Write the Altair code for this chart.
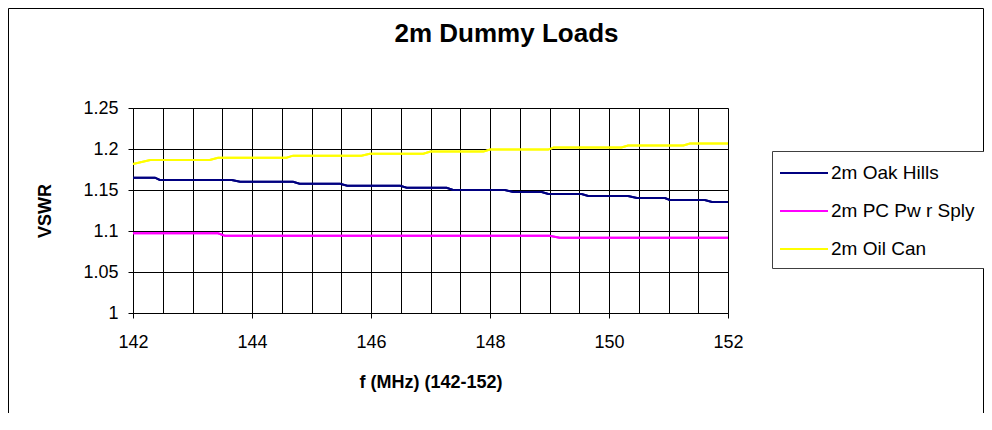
import altair as alt
import pandas as pd

FONT = "Liberation Sans"

series_names = ["2m Oak Hills", "2m PC Pw r Sply", "2m Oil Can"]
series_colors = ["#000080", "#FF00FF", "#FFFF00"]

oak_freq = [142.0, 142.37, 142.45, 143.66, 143.8, 144.69, 144.8, 145.48, 145.6, 146.49, 146.6,
            147.27, 147.38, 148.25, 148.39, 148.87, 148.98, 149.54, 149.65, 150.32, 150.47,
            150.94, 151.02, 151.61, 151.73, 152.0]
oak_vswr = [1.165, 1.165, 1.1622, 1.1622, 1.1601, 1.1601, 1.1577, 1.1577, 1.1552, 1.1552, 1.1528,
            1.1528, 1.150, 1.150, 1.1476, 1.1476, 1.1451, 1.1451, 1.1427, 1.1427, 1.1402,
            1.1402, 1.1378, 1.1378, 1.1354, 1.1354]

pc_freq = [142.0, 143.43, 143.54, 149.0, 149.17, 152.0]
pc_vswr = [1.0972, 1.0972, 1.0943, 1.0943, 1.0919, 1.0919]

oil_freq = [142.0, 142.29, 143.29, 143.43, 144.58, 144.69, 145.84, 145.98, 146.88, 147.0,
            147.89, 148.0, 148.98, 149.07, 150.21, 150.32, 151.25, 151.36, 152.0]
oil_vswr = [1.1817, 1.1866, 1.1866, 1.1894, 1.1894, 1.1919, 1.1919, 1.1943, 1.1943, 1.1968,
            1.1968, 1.1993, 1.1993, 1.2018, 1.2018, 1.2043, 1.2043, 1.2068, 1.2068]

x_label_ticks = [142, 144, 146, 148, 150, 152]
x_grid_ticks = [142 + 0.5 * i for i in range(21)]
y_ticks = [1, 1.05, 1.1, 1.15, 1.2, 1.25]

rows = []
for name, fr, vs in [(series_names[0], oak_freq, oak_vswr),
                     (series_names[1], pc_freq, pc_vswr),
                     (series_names[2], oil_freq, oil_vswr)]:
    for f, v in zip(fr, vs):
        rows.append({"series": name, "freq": f, "vswr": v})
df = pd.DataFrame(rows)

color = alt.Color(
    "series:N",
    scale=alt.Scale(domain=series_names, range=series_colors),
    sort=series_names,
    legend=alt.Legend(
        title=None, orient="none", legendX=639, legendY=43, direction="vertical",
        symbolType="M-2,0H2", symbolSize=576, symbolStrokeWidth=2, symbolOffset=10,
        labelOffset=14, labelFontSize=19, labelFont=FONT, labelColor="black",
        padding=9, strokeColor="#404040", fillColor="white", rowPadding=15,
    ),
)

y_enc = alt.Y(
    "vswr:Q",
    scale=alt.Scale(domain=[1, 1.25], nice=False, zero=False),
    axis=alt.Axis(values=y_ticks, format=".2~f", title="VSWR", grid=True,
                  gridColor="#000000", gridWidth=1, tickSize=5, tickColor="#000000",
                  domainColor="#000000", labelFontSize=18, labelFont=FONT, labelColor="black",
                  labelPadding=10, labelFlush=False, titleFontSize=18, titleFont=FONT,
                  titleFontWeight="bold", titleColor="black", titlePadding=28),
)

grid_layer = alt.Chart(df).mark_line(strokeWidth=2).encode(
    x=alt.X("freq:Q", scale=alt.Scale(domain=[142, 152], nice=False, zero=False),
            axis=alt.Axis(values=x_grid_ticks, grid=True, gridColor="#000000", gridWidth=1,
                          labels=False, ticks=False, domain=False, title=None, orient="bottom")),
    y=y_enc,
    color=color,
    detail="series:N",
)

line_layer = alt.Chart(df).mark_line(strokeWidth=2).encode(
    x=alt.X("freq:Q", scale=alt.Scale(domain=[142, 152], nice=False, zero=False),
            axis=alt.Axis(values=x_label_ticks, grid=False, tickSize=5, tickColor="#000000",
                          domainColor="#000000", labelFontSize=18, labelFont=FONT,
                          labelColor="black", labelPadding=15, labelFlush=False,
                          title="f (MHz) (142-152)",
                          titleFontSize=18, titleFont=FONT, titleFontWeight="bold",
                          titleColor="black", titlePadding=22, orient="bottom")),
    y=y_enc,
    color=color,
    detail="series:N",
)

border = alt.Chart(pd.DataFrame({"k": [0]})).mark_rect(
    fill=None, stroke="#000000", strokeWidth=1
).encode(
    x=alt.value(-124.5), x2=alt.value(850.5), y=alt.value(-99.5), y2=alt.value(400)
)

chart = alt.layer(grid_layer, line_layer, border).resolve_axis(x="independent").properties(
    width=595,
    height=205,
    padding={"left": 125, "top": 100, "right": 256, "bottom": 100},
    autosize=alt.AutoSizeParams(type="none"),
    title=alt.TitleParams("2m Dummy Loads", fontSize=26, fontWeight="bold", font=FONT,
                          color="black", anchor="middle", dx=76, offset=-60,
                          baseline="alphabetic"),
).configure_view(
    fill="#C0C0C0", stroke="#808080", strokeWidth=1
).configure(background="white")

chart.save("out.html", embed_options={"renderer": "svg", "actions": False})
